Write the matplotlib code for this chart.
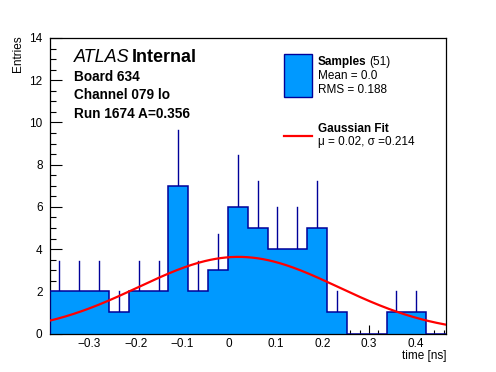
import numpy as np
import matplotlib
matplotlib.use('Agg')
import matplotlib.pyplot as plt
from matplotlib.patches import Rectangle
from matplotlib.lines import Line2D
from matplotlib.ticker import MultipleLocator

plt.rcParams['font.family'] = ['Liberation Sans', 'DejaVu Sans']

# histogram data (20 bins)
x_lo, x_hi = -0.385, 0.465
counts = [2, 2, 2, 1, 2, 2, 7, 2, 3, 6, 5, 4, 4, 5, 1, 0, 0, 1, 1, 0]
n_entries = 51
mean_txt = "0.0"
rms_txt = "0.188"

# gaussian fit
fit_amp = 3.63
fit_mu = 0.02
fit_sigma = 0.214

board = "634"
channel = "079 lo"
run = "1674"
amp = "0.356"

fill_col = '#0099ff'
edge_col = '#000099'

W, H = 496, 372
fig = plt.figure(figsize=(W / 100, H / 100), dpi=100)
ax = fig.add_axes([49.5 / W, 1 - 333.5 / H, (446 - 49.5) / W, (333.5 - 38) / H])

edges = np.linspace(x_lo, x_hi, len(counts) + 1)
centers = 0.5 * (edges[:-1] + edges[1:])
counts = np.array(counts, dtype=float)

# error bars (upper part only shows above the fill)
for c, n in zip(centers, counts):
    if n > 0:
        ax.plot([c, c], [n, n + np.sqrt(n)], color=edge_col, lw=1, zorder=1)

ax.stairs(counts, edges, fill=True, color=fill_col, zorder=2)
ax.stairs(counts, edges, color=edge_col, lw=1.1, zorder=3)

xs = np.linspace(x_lo, x_hi, 300)
ax.plot(xs, fit_amp * np.exp(-0.5 * ((xs - fit_mu) / fit_sigma) ** 2),
        color='red', lw=1.6, zorder=4)

ax.set_xlim(x_lo, x_hi)
ax.set_ylim(0, 14)
ax.xaxis.set_minor_locator(MultipleLocator(0.02))
ax.yaxis.set_major_locator(MultipleLocator(2))
ax.yaxis.set_minor_locator(MultipleLocator(0.5))
ax.set_xticks(np.arange(-0.3, 0.41, 0.1))
ax.set_xticklabels(['\u22120.3', '\u22120.2', '\u22120.1', '0', '0.1', '0.2', '0.3', '0.4'])
ax.tick_params(axis='both', which='both', direction='in', labelsize=8.5,
               top=False, right=False, width=0.8)
ax.tick_params(axis='y', which='major', length=8.5, pad=5)
ax.tick_params(axis='y', which='minor', length=4)
ax.tick_params(axis='x', which='major', length=6.5, pad=3)
ax.tick_params(axis='x', which='minor', length=3.2)
for s in ax.spines.values():
    s.set_linewidth(0.9)

fig.text(18 / W, 1 - 35 / H, 'Entries', rotation=90, ha='center', va='top', fontsize=8.5)
fig.text(446 / W, 1 - 356 / H, 'time [ns]', ha='right', va='center', fontsize=8.5)

# labels
fig.text(74 / W, 1 - 57 / H, 'ATLAS', style='italic', fontsize=13, va='center')
fig.text(132 / W, 1 - 57 / H, 'Internal', weight='bold', fontsize=13, va='center')
fig.text(74 / W, 1 - 77 / H, 'Board ' + board, weight='bold', fontsize=9.8, va='center')
fig.text(74 / W, 1 - 95 / H, 'Channel ' + channel, weight='bold', fontsize=9.8, va='center')
fig.text(74 / W, 1 - 114 / H, 'Run ' + run + ' A=' + amp, weight='bold', fontsize=9.8, va='center')

# legend by hand
fig.patches.append(Rectangle((283.5 / W, 1 - 96.5 / H), 28 / W, 43 / H,
                             facecolor=fill_col, edgecolor=edge_col, lw=1,
                             transform=fig.transFigure))
fig.text(317.5 / W, 1 - 62 / H, 'Samples', weight='bold', fontsize=8.5, va='center')
fig.text(369.5 / W, 1 - 62 / H, '(%d)' % n_entries, fontsize=8.5, va='center')
fig.text(317.5 / W, 1 - 76 / H, 'Mean = ' + mean_txt, fontsize=8.5, va='center')
fig.text(317.5 / W, 1 - 90 / H, 'RMS = ' + rms_txt, fontsize=8.5, va='center')
fig.lines.append(Line2D([283.5 / W, 311.5 / W], [1 - 135.5 / H, 1 - 135.5 / H],
                        color='red', lw=1.6, transform=fig.transFigure))
fig.text(317.5 / W, 1 - 129 / H, 'Gaussian Fit', weight='bold', fontsize=8.5, va='center')
fig.text(317.5 / W, 1 - 142 / H, '\u03bc = %.2f, \u03c3 =%.3f' % (fit_mu, fit_sigma),
         fontsize=8.5, va='center')

fig.savefig('out.png', dpi=100)
